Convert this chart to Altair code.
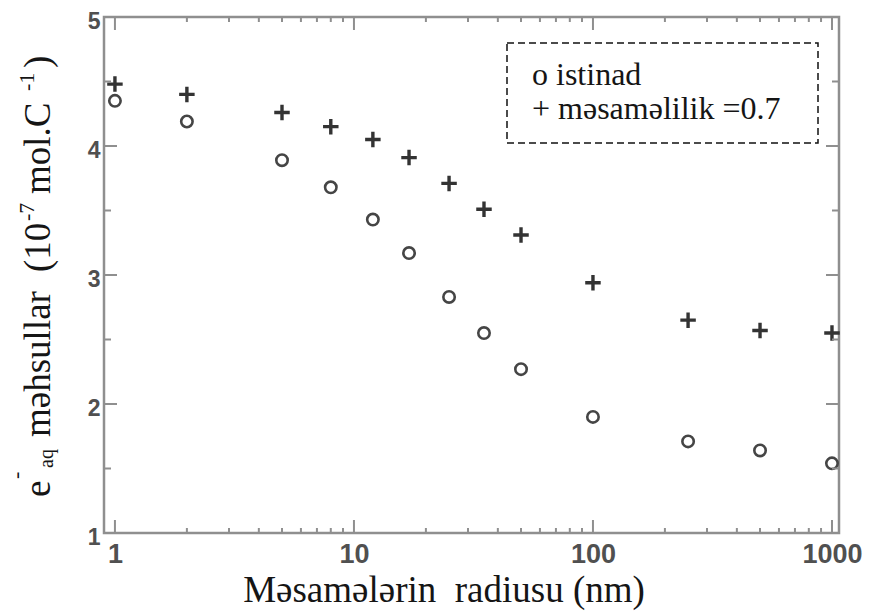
import altair as alt
import pandas as pd

# Pore radius (nm) and hydrated-electron yields (10^-7 mol/C)
radius_nm = [1, 2, 5, 8, 12, 17, 25, 35, 50, 100, 250, 500, 1000]
yield_reference = [4.35, 4.19, 3.89, 3.68, 3.43, 3.17, 2.83, 2.55, 2.27, 1.90, 1.71, 1.64, 1.54]
yield_porosity_07 = [4.48, 4.40, 4.26, 4.15, 4.05, 3.91, 3.71, 3.51, 3.31, 2.94, 2.65, 2.57, 2.55]

# Tick positions
x_major = [1, 10, 100, 1000]
x_minor = [2, 3, 4, 5, 6, 7, 8, 9, 20, 30, 40, 50, 60, 70, 80, 90,
           200, 300, 400, 500, 600, 700, 800, 900]
y_major = [1, 2, 3, 4, 5]
y_minor = [1.5, 2.5, 3.5, 4.5]

legend_lines = ["o istinad", "+ məsaməlilik =0.7"]
x_title = "Məsamələrin\u00a0 radiusu (nm)"

W, H = 735, 516
PAD_L, PAD_T = 104, 17
FRAME = "#8f8f8f"
LABEL = "#505050"
SERIF = "'Liberation Serif', 'Times New Roman', 'DejaVu Serif', serif"
SANS = "'Liberation Sans', Arial, sans-serif"

x_scale = alt.Scale(type="log", domain=[0.9, 1070], nice=False)
y_scale = alt.Scale(domain=[1, 5], nice=False, zero=False)

x_axis = alt.Axis(values=x_major, format="d", ticks=False, domain=False, grid=False,
                  title=None, labelFont=SANS, labelFontWeight="bold",
                  labelFontSize=27, labelColor=LABEL, labelPadding=8,
                  labelFlush=False, labelOverlap=False)
y_axis = alt.Axis(values=y_major, format="d", ticks=False, domain=False, grid=False,
                  title=None, labelFont=SANS, labelFontWeight="bold",
                  labelFontSize=23, labelColor=LABEL, labelPadding=4, labelOffset=4)

X = lambda f: alt.X(f, scale=x_scale, axis=x_axis)
Y = lambda f: alt.Y(f, scale=y_scale, axis=y_axis)

ref_df = pd.DataFrame({"r": radius_nm, "v": yield_reference})
por_df = pd.DataFrame({"r": radius_nm, "v": yield_porosity_07})

circles = alt.Chart(ref_df).mark_point(
    shape="circle", filled=False, size=130, strokeWidth=2.6, color="#454545", opacity=1
).encode(x=X("r:Q"), y=Y("v:Q"))

pluses = alt.Chart(por_df).mark_point(
    shape="M-1,0L1,0M0,-1L0,1", filled=False, size=240, strokeWidth=3.4,
    color="#333333", opacity=1
).encode(x=X("r:Q"), y=Y("v:Q"))


def x_ticks(values, length):
    df = pd.DataFrame({"t": values})
    bottom = alt.Chart(df).mark_rule(color=FRAME, strokeWidth=2).encode(
        x=X("t:Q"), y=alt.value(H), y2=alt.value(H - length))
    top = alt.Chart(df).mark_rule(color=FRAME, strokeWidth=2).encode(
        x=X("t:Q"), y=alt.value(0), y2=alt.value(length))
    return [bottom, top]


def y_ticks(values, length):
    df = pd.DataFrame({"t": values})
    left = alt.Chart(df).mark_rule(color=FRAME, strokeWidth=2).encode(
        y=Y("t:Q"), x=alt.value(0), x2=alt.value(length))
    right = alt.Chart(df).mark_rule(color=FRAME, strokeWidth=2).encode(
        y=Y("t:Q"), x=alt.value(W), x2=alt.value(W - length))
    return [left, right]


ticks = x_ticks(x_major, 13) + x_ticks(x_minor, 5) + y_ticks(y_major, 13) + y_ticks(y_minor, 7)

# Dashed legend box with its two text lines
legend_box = alt.Chart(pd.DataFrame({"k": [0]})).mark_rect(
    fillOpacity=0, stroke="#111111", strokeWidth=1.5, strokeDash=[7, 4]
).encode(x=alt.value(403), x2=alt.value(714), y=alt.value(26), y2=alt.value(126))


def text_at(s, x, y, size, **kw):
    return alt.Chart(pd.DataFrame({"s": [s]})).mark_text(
        font=SERIF, fontSize=size, color="#151515", baseline="alphabetic", **kw
    ).encode(text="s:N", x=alt.value(x), y=alt.value(y))


legend_text = [
    text_at(legend_lines[0], 428, 68, 32, align="left"),
    text_at(legend_lines[1], 428, 102, 32, align="left"),
]

x_title_mark = text_at(x_title, 340, 585, 37, align="center")


# Rotated y-axis title assembled from pieces (superscripts / subscript)
def vpiece(s, page_y, page_x, size):
    return text_at(s, page_x - PAD_L, page_y - PAD_T, size, align="left", angle=270)


y_title = [
    vpiece("e", 497, 50, 37),
    vpiece("-", 479, 23, 22),
    vpiece("aq", 468, 53, 20),
    vpiece("məhsullar", 437, 50, 37),
    vpiece("(10", 272, 50, 37),
    vpiece("-7", 221, 34, 22),
    vpiece("mol.C", 194, 50, 37),
    vpiece("-1", 91, 34, 22),
    vpiece(")", 68, 50, 37),
]

chart = alt.layer(
    circles, pluses, *ticks, legend_box, *legend_text, x_title_mark, *y_title
).properties(
    width=W, height=H,
    autosize=alt.AutoSizeParams(type="none"),
    padding={"left": PAD_L, "top": PAD_T, "right": 30, "bottom": 81},
    background="white",
).configure_view(stroke=FRAME, strokeWidth=2.5)

chart.save("out.html", embed_options={"renderer": "svg", "actions": False})
